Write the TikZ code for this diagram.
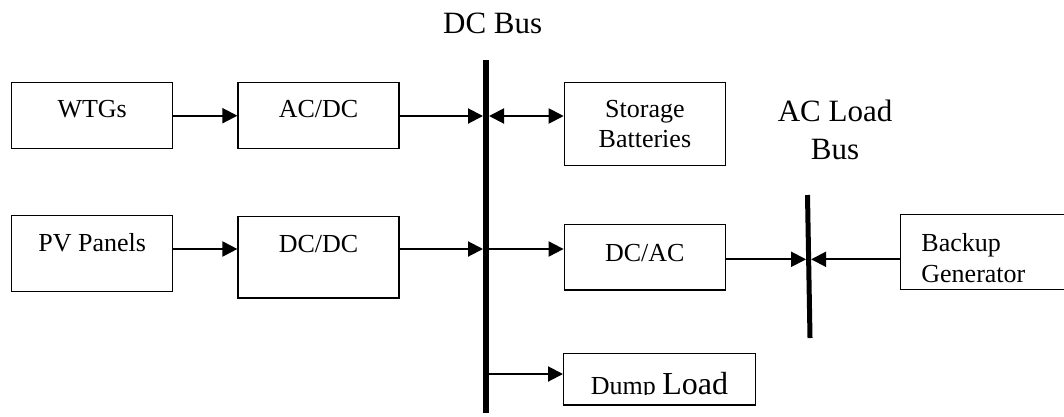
\documentclass[tikz,border=0pt]{standalone}
\usepackage{fontspec}
\setmainfont{Liberation Serif}
\usetikzlibrary{arrows.meta,positioning}
\tikzset{
  block/.style={rectangle, draw, line width=1.4pt, inner sep=0pt, minimum width=161pt,
                anchor=north west, align=center, font=\fontsize{26}{30}\selectfont},
  arrow/.style={-{Triangle[length=15pt,width=15pt]}, line width=2pt},
  biarrow/.style={{Triangle[length=15pt,width=15pt]}-{Triangle[length=15pt,width=15pt]}, line width=2pt},
  bus/.style={line width=6pt},
  buslabel/.style={font=\fontsize{31}{37.6}\selectfont, inner sep=0pt, anchor=base, align=center},
}

\begin{document}
\begin{tikzpicture}[x=1pt, y=-1pt]
\useasboundingbox (0,0) rectangle (1064,416);
% sources and converters
\node[block, text height=35pt, text depth=31pt] (wtg) at (11,82) {WTGs};
\node[block, text height=35pt, text depth=31pt, right=64pt of wtg.north east, anchor=north west] (acdc) {AC/DC};
\node[block, text height=36pt, text depth=40pt, below=65.3pt of wtg.south west, anchor=north west] (pv) {PV Panels};
\node[block, text height=36.4pt, text depth=45pt, below=66.3pt of acdc.south west, anchor=north west] (dcdc) {DC/DC};
% loads on the DC side
\node[block, text height=65.3pt, text depth=18pt] (store) at (563.7,81.7) {Storage\\Batteries};
\node[block, text height=36.7pt, text depth=28.6pt] (dcac) at (563.6,224) {DC/AC};
\node[block, minimum width=191.5pt, text height=40pt, text depth=11.5pt] (dump) at (563,352.7) {};
\begin{scope}
  \clip (dump.north west) rectangle ([yshift=11.5pt]dump.south east);
  \node[anchor=base, inner sep=0pt] (dumptext) at ([yshift=11.5pt]dump.south)
    {\fontsize{26}{30}\selectfont Dump \fontsize{32}{36}\selectfont Load};
\end{scope}
\node[block, align=left, text width=139pt, inner xsep=20.7pt, text height=36.7pt, text depth=38.3pt,
      font=\fontsize{26}{31}\selectfont] (backup) at (900,214) {Backup\\Generator};
% buses
\coordinate (dc top) at (486,60);
\coordinate (dc bot) at (486,413);
\coordinate (ac top) at (807.5,195);
\coordinate (ac bot) at (810,338);
\draw[bus] (dc top) -- (dc bot);
\draw[bus, line width=5pt] (ac top) -- (ac bot);
\node[buslabel] (dclabel) at (492.7,33) {DC Bus};
\node[buslabel] (aclabel) at (835,159.3) {AC Load\\Bus};
\coordinate (tap1) at (486,116);
\coordinate (tap2) at (486,249);
\coordinate (tap3) at (486,374);
\coordinate (tap4) at (808.6,259.3);
% connectors
\draw[arrow] (wtg) -- (acdc);
\draw[arrow] (acdc.east |- tap1) -- ([xshift=-3pt]tap1);
\draw[biarrow] ([xshift=3pt]tap1) -- (store.west |- tap1);
\draw[arrow] (pv.east |- tap2) -- (dcdc.west |- tap2);
\draw[arrow] (dcdc.east |- tap2) -- ([xshift=-3pt]tap2);
\draw[arrow] (tap2) -- (dcac.west |- tap2);
\draw[arrow] (tap3) -- (dump.west |- tap3);
\draw[arrow] (dcac.east |- tap4) -- ([xshift=-2.5pt]tap4);
\draw[arrow] (backup.west |- tap4) -- ([xshift=2.5pt]tap4);
\end{tikzpicture}
\end{document}
